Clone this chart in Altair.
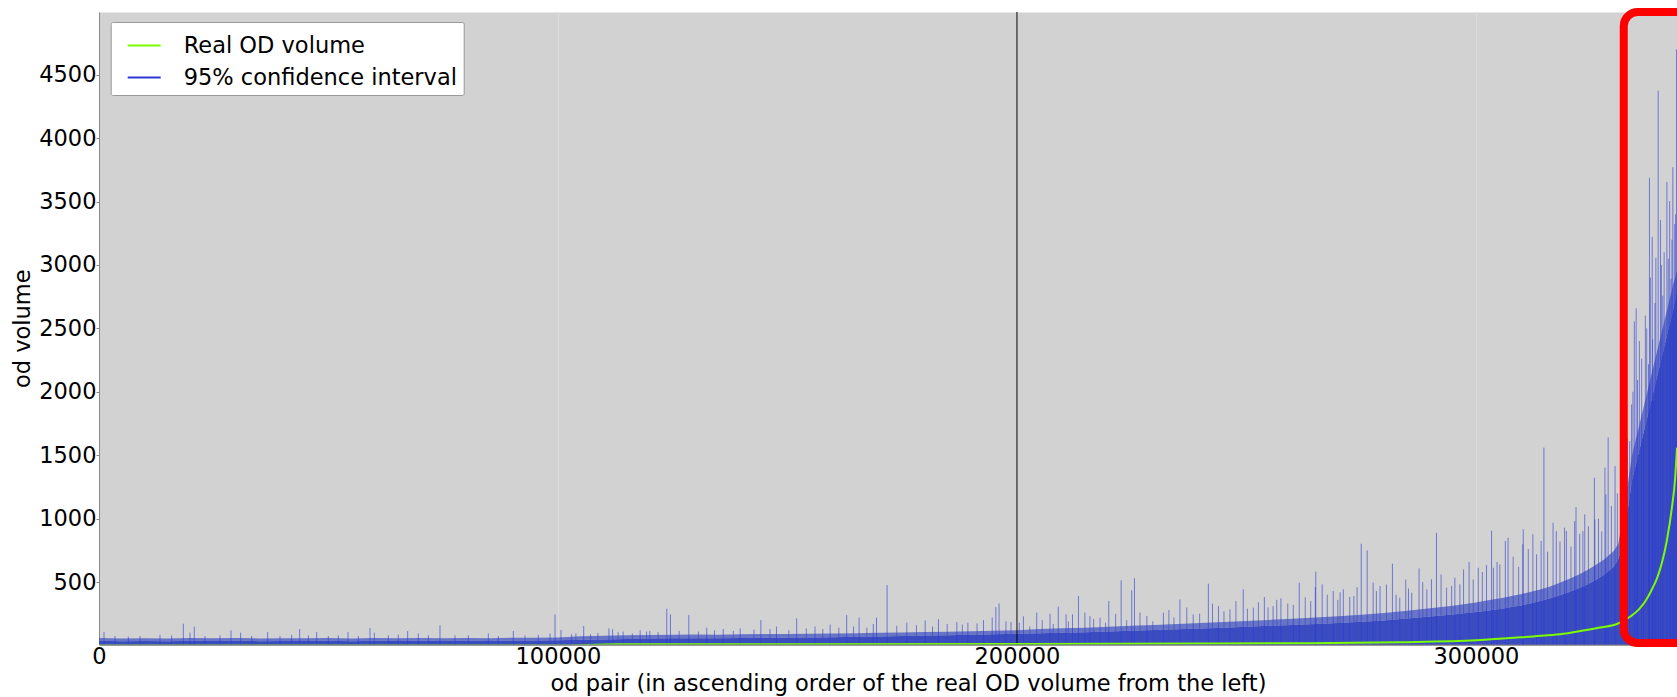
import altair as alt
import pandas as pd

# ---- axis ticks ----
x_ticks = [0, 100000, 200000, 300000]
y_ticks = [500, 1000, 1500, 2000, 2500, 3000, 3500, 4000, 4500]
X_MAX = 343800
Y_MIN = 8
Y_MAX = 4994

# ---- real OD volume, sorted ascending ----
real_x = [0, 100000, 113000, 150000, 200000, 240000, 261700, 283400, 300100, 312500,
          318300, 323400, 327000, 330700, 333500, 335500, 337000, 338300,
          339500, 340500, 341600, 342700, 343400, 343800]
real_v = [0, 0, 9, 10, 12, 15, 18, 26, 41, 72, 88, 118, 142, 170, 225, 285, 355,
          440, 535, 650, 830, 1090, 1320, 1560]

# ---- 95% confidence interval: dense body and lighter fringe ----
band_x = ([i * 5000 for i in range(61)]
          + [302000 + i * 2000 for i in range(15)]
          + [331000 + i * 1000 for i in range(13)] + [343800])
band_body = [38, 34, 36, 33, 37, 35, 38, 34, 36, 35, 37, 34, 38, 36, 37, 35, 38, 36, 39, 40, 42,
             45, 48, 52, 55, 57, 58, 57, 60, 62, 62, 64, 66, 69, 72, 75, 78, 81, 84, 88, 92,
             96, 100, 104, 110, 116, 122, 128, 135, 141, 148, 155, 162, 170, 178, 187, 198, 212, 228, 245, 265,
             272, 282, 292, 305, 318, 334, 350, 370, 392, 418, 445, 478, 515, 560, 620,
             680, 800, 1050, 1300, 1450, 1600, 1750, 1900, 2050, 2200, 2350, 2500, 2650, 2800]
band_fringe = [60, 56, 58, 55, 59, 57, 60, 56, 58, 57, 59, 56, 60, 58, 59, 57, 60, 58, 61, 62, 64,
               73, 76, 80, 83, 85, 86, 85, 88, 90, 90, 92, 94, 97, 100, 103, 106, 109, 112, 116, 120,
               131, 136, 141, 148, 155, 162, 169, 177, 185, 193, 202, 211, 221, 231, 243, 257, 274, 293, 314, 340,
               352, 364, 376, 392, 406, 424, 442, 464, 490, 520, 552, 590, 632, 680, 745,
               800, 1000, 1250, 1500, 1650, 1800, 1950, 2100, 2250, 2400, 2550, 2700, 2850, 2950]

# ---- individual wide intervals (upper bounds) ----
spike_x = [1090, 3490, 6390, 8930, 13290, 15830, 18370, 19830, 20760, 23090, 26360, 28760,
           30860, 33260, 36750, 39430, 41970, 43720, 45610, 47420, 49960, 52140, 54250, 56500,
           59040, 59980, 63030, 65210, 67250, 69570, 71750, 74290, 77560, 80460, 84820, 87000,
           90270, 92810, 95710, 98260, 99350, 100650, 102980, 105600, 107100,
           111100, 111900, 114200, 117900, 120000, 123700, 124500, 128500, 132400, 136000,
           139700, 144200, 147600, 152000, 156000, 159300, 162900, 165600, 168700, 169400,
           171700, 176000, 180000, 182900, 186900, 189300, 192700, 194600, 195400, 196100,
           197600, 201400, 204300, 207200, 209000, 210700, 212100, 213400, 214800,
           215900, 218100, 220000, 222700, 225000, 225600, 228300, 231900, 235500, 238400,
           241700, 243900, 246400, 249300, 251500, 253900, 255800, 257500, 260200, 261500,
           265000, 265100, 266500, 268900, 271100, 272500, 275000, 276300, 277600, 279100,
           281800, 283400, 286000, 287600, 289300, 290300, 291400, 293600, 295400, 296500,
           298500, 300500, 302300, 303400, 303800, 304600,
           306400, 307000, 310200, 310300, 312400, 313200, 314200, 314800, 316800, 317500,
           319300, 319700, 321500, 321800, 323300, 323700, 325800, 325900, 328100, 328300,
           328800, 330300,
           333000, 333500, 334500, 334900, 335200, 336100, 336500, 337600, 337800, 338400,
           338500, 338800, 339200, 339700, 340200, 340700, 341600, 342200, 342500, 342900,
           343300, 343700]
spike_hi = [106, 75, 70, 75, 85, 80, 172, 101, 148, 75, 80, 120,
            101, 75, 106, 75, 85, 130, 80, 106, 75, 80, 106, 75,
            138, 101, 80, 85, 114, 95, 80, 159, 80, 80, 95, 75,
            114, 80, 85, 95, 246, 122, 90, 154, 90,
            135, 128, 110, 120, 115, 290, 246, 240, 140, 130,
            135, 201, 150, 214, 150, 165, 240, 220, 170, 220,
            477, 180, 198, 207, 185, 180, 200, 220, 303, 332,
            190, 230, 260, 250, 306, 246, 246, 390, 260,
            232, 219, 351, 514, 435, 530, 232, 259, 364, 245,
            487, 311, 285, 443, 298, 382, 311, 372, 320, 495,
            461, 582, 482, 430, 443, 382, 802, 750, 495, 469,
            645, 377, 416, 608, 443, 522, 889, 456, 535, 482,
            658, 613, 635, 905, 613, 658,
            824, 850, 798, 916, 877, 719, 824, 1560, 968, 902,
            929, 902, 981, 1092, 902, 1034, 1323, 995, 1402, 1192,
            1640, 1415,
            1630, 1612, 2555, 2659, 2094, 2261, 1663, 2217, 3687, 3222,
            2414, 1929, 3057, 4374, 3355, 2758, 3654, 3504, 2891, 3770,
            3322, 4700]

# ---- shorter intervals forming the ragged top of the band ----
hair_x = [103900, 108700, 113100, 116200, 119300, 121800, 126400, 130600, 134100, 138200,
          142700, 146200, 150300, 154100, 157700, 161200, 164400, 167300, 173800, 178100,
          181600, 184800, 188100, 191300, 198700,
          200500, 202800, 205500, 207900, 211200, 216700, 219300, 221500, 223900, 226800,
          229600, 233100, 234200, 237000, 239800, 242600, 245100, 247700, 250200, 252600,
          254700, 256600, 259000, 262800, 264000, 267600, 269900, 270400, 273400, 274100,
          278300, 280500, 282600, 284700, 285300, 288400, 292400, 294700, 297300, 299400,
          301400, 305200, 308100, 309300, 311400, 315600, 318300, 320700, 322600, 324500,
          326700, 327400, 329500, 330800, 331600,
          332400, 333900, 334200, 335600, 336900, 337200, 338000, 339000, 340400, 341000,
          341900, 342700, 343500]
hair_hi = [95, 100, 105, 95, 110, 105, 115, 110, 120, 115,
           125, 130, 120, 135, 130, 140, 150, 140, 155, 160,
           150, 170, 165, 175, 185,
           180, 150, 200, 170, 190, 210, 180, 250, 200, 260,
           190, 280, 220, 300, 250, 330, 270, 350, 290, 340,
           300, 360, 330, 380, 350, 400, 360, 420, 390, 460,
           430, 480, 400, 520, 450, 500, 560, 470, 600, 520,
           580, 640, 700, 620, 760, 740, 820, 780, 880, 940,
           1000, 900, 1100, 1200, 1050,
           1450, 1900, 2000, 2400, 2600, 2500, 2900, 2700, 3000, 3100,
           3050, 3200, 3400]

# ---- highlighted region ----
box_x = [332200, 352000]
box_y = [20, 4994]

series_names = ["Real OD volume", "95% confidence interval"]
series_colors = ["#7cfc00", "#2a3ad6"]

FONT = "DejaVu Sans"
FS = 22.5

band_df = pd.DataFrame({"pair": band_x, "body": band_body, "fringe": band_fringe})
spike_df = pd.DataFrame({"pair": spike_x, "hi": spike_hi,
                         "lo": [0] * len(spike_x), "series": series_names[1]})
hair_df = pd.DataFrame({"pair": hair_x, "hi": hair_hi, "lo": [0] * len(hair_x)})
real_df = pd.DataFrame({"pair": real_x, "volume": real_v, "series": series_names[0]})
box_df = pd.DataFrame({"x0": [box_x[0]], "x1": [box_x[1]], "y0": [box_y[0]], "y1": [box_y[1]]})
marker_df = pd.DataFrame({"pair": [200000]})

x_scale = alt.Scale(domain=[0, X_MAX], nice=False, zero=False)
y_scale = alt.Scale(domain=[Y_MIN, Y_MAX], nice=False, zero=False)

x_axis = alt.Axis(values=x_ticks, format="d", title="od pair (in ascending order of the real OD volume from the left)",
                  labelFontSize=FS, titleFontSize=FS, titleFontWeight="normal", labelFont=FONT, titleFont=FONT,
                  labelColor="black", titleColor="black", tickSize=0, labelPadding=1, labelFlush=False,
                  grid=True, gridColor="#dcdcdc", gridWidth=1, domainColor="#333333", domainWidth=1,
                  titleX=809, titleY=28)
y_axis = alt.Axis(values=y_ticks, format="d", title="od volume", labelFontSize=FS, titleFontSize=FS,
                  titleFontWeight="normal", labelFont=FONT, titleFont=FONT, labelColor="black",
                  titleColor="black", tickSize=3, tickColor="#888888", labelPadding=0, labelFlush=False,
                  grid=False, domainColor="#888888", domainWidth=1, titlePadding=4)

X = lambda f: alt.X(f"{f}:Q", scale=x_scale, axis=x_axis)
Y = lambda f: alt.Y(f"{f}:Q", scale=y_scale, axis=y_axis)

color = alt.Color(
    "series:N",
    scale=alt.Scale(domain=series_names, range=series_colors),
    legend=alt.Legend(title=None, orient="none", legendX=11.7, legendY=10,
                      symbolType="stroke", symbolSize=1089, symbolStrokeWidth=2,
                      symbolOpacity=1, labelFontSize=FS, labelFont=FONT, labelColor="black",
                      labelOffset=22, padding=6, symbolOffset=10, rowPadding=3,
                      fillColor="white", strokeColor="#999999", labelLimit=400, cornerRadius=2),
)

body = alt.Chart(band_df).mark_area(color="#3b4cc0", clip=True).encode(x=X("pair"), y=Y("body"))
fringe = alt.Chart(band_df).mark_area(color="#3b4cc0", opacity=0.7, clip=True).encode(
    x=X("pair"), y=Y("fringe"), y2="body:Q")
hair = alt.Chart(hair_df).mark_rule(strokeWidth=1, color="#3b4cc0", opacity=0.65, clip=True).encode(
    x=X("pair"), y=Y("hi"), y2="lo:Q")
spikes = alt.Chart(spike_df).mark_rule(strokeWidth=1, opacity=0.6, clip=True).encode(
    x=X("pair"), y=Y("hi"), y2="lo:Q", color=color)
marker = alt.Chart(marker_df).mark_rule(color="black", strokeWidth=1).encode(x=X("pair"))
real = alt.Chart(real_df).mark_line(strokeWidth=2, interpolate="monotone", clip=True).encode(
    x=X("pair"), y=Y("volume"), color=color)
box = alt.Chart(box_df).mark_rect(stroke="#ff0000", strokeWidth=8, fillOpacity=0,
                                   cornerRadius=14).encode(
    x=X("x0"), x2="x1:Q", y=Y("y0"), y2="y1:Q")

chart = (
    alt.layer(body, fringe, hair, spikes, marker, real, box)
    .properties(width=1578, height=632.5,
                autosize=alt.AutoSizeParams(type="none"),
                padding={"left": 99, "top": 12, "right": 0, "bottom": 52.5})
    .configure(font=FONT)
    .configure_view(fill="#d2d2d2", stroke="transparent")
)

chart.save("out.html", embed_options={"renderer": "svg", "actions": False})
